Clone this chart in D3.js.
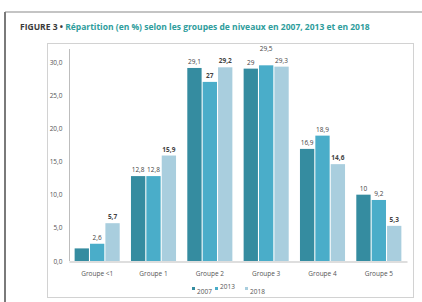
<!DOCTYPE html>
<html>
<head>
<meta charset="utf-8">
<script src="https://cdn.jsdelivr.net/npm/d3@7"></script>
<style>
  body { margin: 0; background: #fff; }
  svg { display: block; font-family: "Open Sans", sans-serif; }
</style>
</head>
<body>
<div id="chart"></div>
<script>
// données
const groups = ["Groupe <1", "Groupe 1", "Groupe 2", "Groupe 3", "Groupe 4", "Groupe 5"];
const years = ["2007", "2013", "2018"];
const values2007 = [1.9, 12.8, 29.1, 29, 16.9, 10];
const values2013 = [2.6, 12.8, 27, 29.5, 18.9, 9.2];
const values2018 = [5.7, 15.9, 29.2, 29.3, 14.6, 5.3];
const labels2007 = ["", "12,8", "29,1", "29", "16,9", "10"];
const labels2013 = ["2,6", "12,8", "27", "29,5", "18,9", "9,2"];
const labels2018 = ["5,7", "15,9", "29,2", "29,3", "14,6", "5,3"];
const boldLabels = ["27", "5,7", "15,9", "29,2", "14,6", "5,3"];
const yTicks = [0, 5, 10, 15, 20, 25, 30];

const width = 422, height = 302;
const colors = { "2007": "#358ca0", "2013": "#4aadc9", "2018": "#a9cede" };

const series = [
  { year: "2007", values: values2007, labels: labels2007 },
  { year: "2013", values: values2013, labels: labels2013 },
  { year: "2018", values: values2018, labels: labels2018 }
];

const svg = d3.select("#chart").append("svg")
  .attr("width", width)
  .attr("height", height);

// cadre extérieur
svg.append("line").attr("x1", 5).attr("x2", width).attr("y1", 12).attr("y2", 12)
  .attr("stroke", "#8a8a8a").attr("stroke-width", 1.2);
svg.append("line").attr("x1", 5).attr("x2", 5).attr("y1", 12).attr("y2", height)
  .attr("stroke", "#7a7a7a").attr("stroke-width", 2);

// titre
const title = svg.append("text").attr("x", 20).attr("y", 30)
  .attr("font-size", 8.5).attr("font-weight", "bold");
title.append("tspan").attr("fill", "#3a3a3a").text("FIGURE 3 • ");
title.append("tspan").attr("fill", "#2e9d9c")
  .text(" Répartition (en %) selon les groupes de niveaux en 2007, 2013 et en 2018");

// cadre du graphique
svg.append("rect").attr("x", 47.5).attr("y", 43.5).attr("width", 366).attr("height", 254)
  .attr("fill", "none").attr("stroke", "#d2d2d2");

const x0 = d3.scaleBand().domain(groups).range([69, 407])
  .paddingInner(0.2).paddingOuter(0.1);
const x1 = d3.scaleBand().domain(years).range([0, x0.bandwidth()]).paddingInner(0.07);
const y = d3.scaleLinear().domain([0, 30]).range([261, 62]);

// axe Y
const leftAxis = d3.axisLeft(y).tickValues(yTicks).tickSize(0).tickPadding(7)
  .tickFormat(d => d3.format(".1f")(d).replace(".", ","));
const gy = svg.append("g").attr("transform", "translate(69.5,0)").call(leftAxis);
gy.select(".domain").attr("stroke", "#bdbdbd").attr("d", `M0,${y(30) - 13}V${y(0)}`);
gy.selectAll("text").attr("font-size", 6.5).attr("fill", "#555").attr("font-family", "Open Sans");

// barres
const gGroups = svg.append("g").selectAll("g").data(groups).join("g")
  .attr("transform", d => `translate(${x0(d)},0)`);

series.forEach(s => {
  gGroups.append("rect")
    .attr("x", x1(s.year))
    .attr("y", (d, i) => y(s.values[i]))
    .attr("width", x1.bandwidth())
    .attr("height", (d, i) => y(0) - y(s.values[i]))
    .attr("fill", colors[s.year]);
  gGroups.append("text")
    .attr("x", x1(s.year) + x1.bandwidth() / 2)
    // l'étiquette 29,5 est remontée pour ne pas chevaucher ses voisines
    .attr("y", (d, i) => y(s.values[i]) - (s.labels[i] === "29,5" ? 14 : 4))
    .attr("text-anchor", "middle")
    .attr("font-size", 6.5)
    .attr("font-weight", (d, i) => boldLabels.includes(s.labels[i]) ? "bold" : "normal")
    .attr("fill", "#444")
    .text((d, i) => s.labels[i]);
});

// axe X
const bottomAxis = d3.axisBottom(x0).tickSize(0).tickPadding(10);
const gx = svg.append("g").attr("transform", `translate(0,${y(0) + 0.5})`).call(bottomAxis);
gx.select(".domain").attr("stroke", "#bdbdbd");
gx.selectAll("text").attr("font-size", 6.5).attr("fill", "#555").attr("font-family", "Open Sans");

// légende
const legendX = [192, 215, 245];
const legendY = [294, 289, 294];
const leg = svg.append("g").selectAll("g").data(years).join("g");
leg.append("rect")
  .attr("x", (d, i) => legendX[i])
  .attr("y", 287)
  .attr("width", 3).attr("height", 3)
  .attr("fill", d => colors[d]);
leg.append("text")
  .attr("x", (d, i) => legendX[i] + 5)
  .attr("y", (d, i) => legendY[i])
  .attr("font-size", 6.5).attr("fill", "#555")
  .text(d => d);
</script>
</body>
</html>
